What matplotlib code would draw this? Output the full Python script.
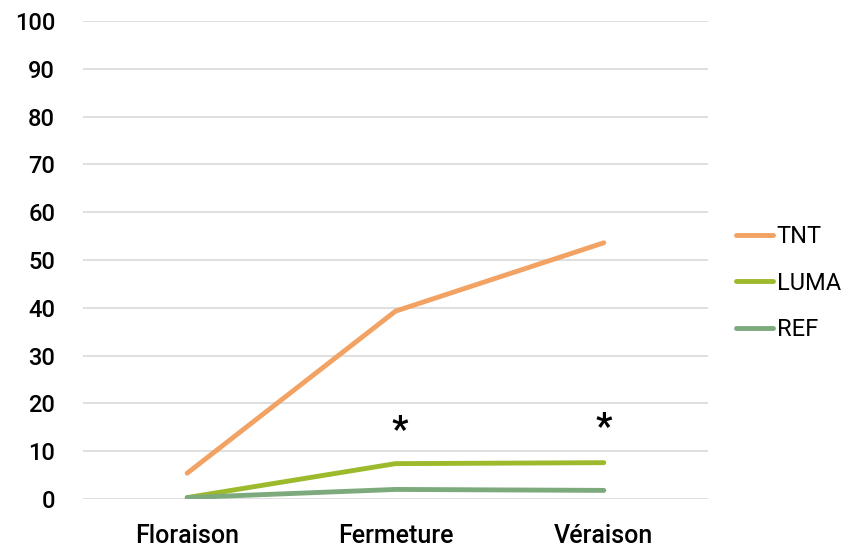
import matplotlib
matplotlib.use('Agg')
import matplotlib.pyplot as plt

# data
stades = ["Floraison", "Fermeture", "Véraison"]
tnt = [5.4, 39.3, 53.6]
luma = [0.3, 7.4, 7.6]
ref = [0.3, 2.0, 1.8]
# significance marks (position of the asterisks)
etoiles_x = [1.02, 2.0]
etoiles_y = [14.3, 14.8]

plt.rcParams['font.family'] = ['Roboto', 'DejaVu Sans']

fig = plt.figure(figsize=(8.57, 5.49), dpi=100)
ax = fig.add_axes([83 / 857, 1 - 499 / 549, 625 / 857, 478 / 549])

x = range(len(stades))
ax.plot(x, tnt, color='#F2A263', lw=3.5, label='TNT', solid_capstyle='round')
ax.plot(x, luma, color='#9DB92C', lw=3.5, label='LUMA', solid_capstyle='round')
ax.plot(x, ref, color='#7DAA7D', lw=3.5, label='REF', solid_capstyle='round')

for xs, ys in zip(etoiles_x, etoiles_y):
    ax.text(xs, ys, '*', ha='center', va='center', fontsize=26, fontweight='bold')

ax.set_xlim(-0.5, 2.5)
ax.set_ylim(0, 100)
ax.set_yticks(range(0, 101, 10))
ax.set_xticks(list(x))
ax.set_xticklabels(stades)
ax.grid(axis='y', color='#D9D9D9', lw=1.2)
ax.set_axisbelow(True)
for s in ax.spines.values():
    s.set_visible(False)
ax.tick_params(axis='y', length=0, labelsize=17, pad=20)
ax.tick_params(axis='x', length=0, labelsize=18, pad=18)
for lab in ax.get_yticklabels():
    lab.set_fontweight('medium')
for lab in ax.get_xticklabels():
    lab.set_fontweight('medium')

leg = fig.legend(loc='center left', bbox_to_anchor=(719 / 857, 1 - 283 / 549),
                 frameon=False, fontsize=17, handlelength=1.6, handletextpad=0.15,
                 labelspacing=1.0, borderpad=0.2)

fig.savefig('out.png', dpi=100)
